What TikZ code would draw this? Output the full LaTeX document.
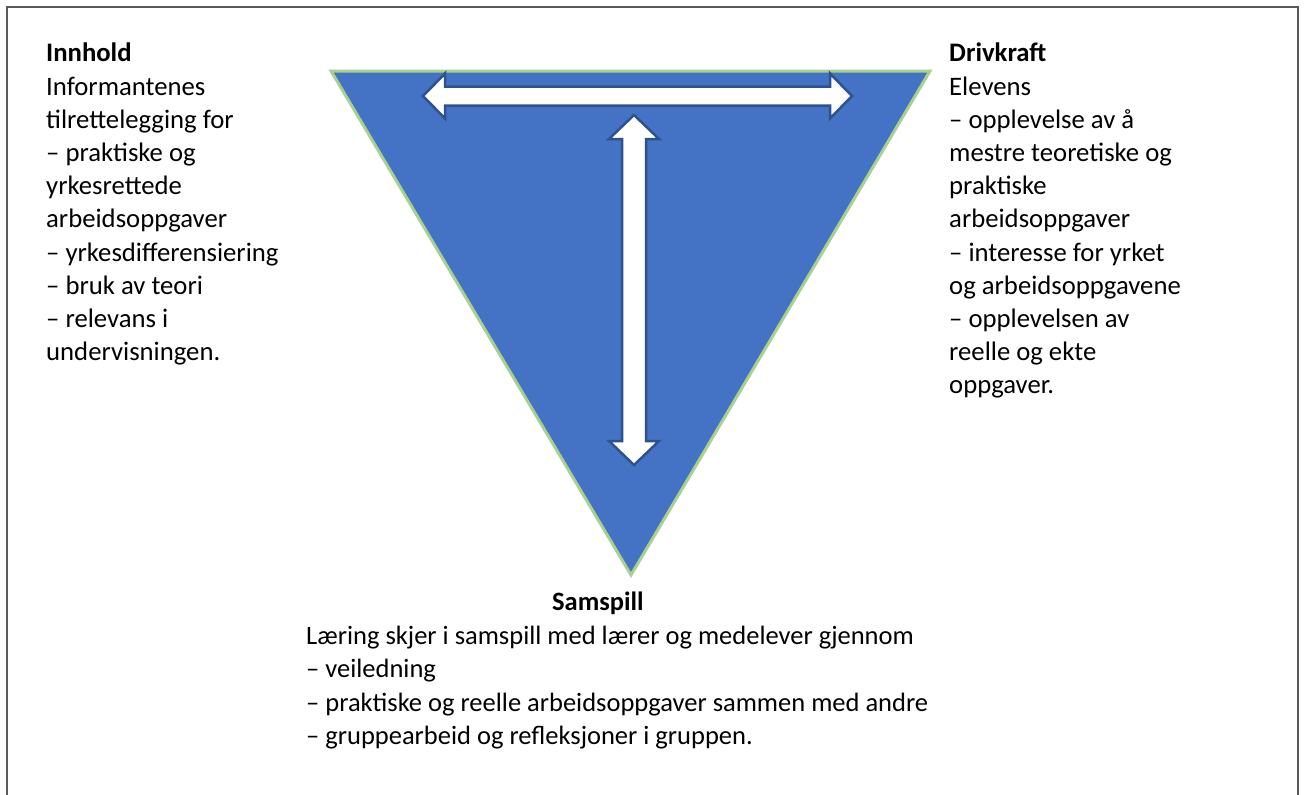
\documentclass[tikz,border=0pt]{standalone}
\usepackage{fontspec}
\setmainfont{Carlito}
\usepackage{xcolor}
\usepackage{tikz}
\usetikzlibrary{positioning}

\definecolor{triblue}{HTML}{4472C4}
\definecolor{trigreen}{HTML}{A9D18E}
\definecolor{arrowedge}{HTML}{2F528F}
\definecolor{framegray}{HTML}{595959}

\begin{document}
\begin{tikzpicture}[x=1pt, y=-1pt,
    textblock/.style={align=left, inner sep=0pt, anchor=north west, font=\fontsize{26.7}{33.2}\selectfont},
    bottomblock/.style={align=left, inner sep=0pt, anchor=north west, font=\fontsize{26.5}{33.3}\selectfont},
    headblock/.style={inner sep=0pt, anchor=north west, font=\fontsize{26.5}{33.3}\selectfont\bfseries},
    triangle/.style={fill=triblue, draw=trigreen, line width=3pt, line join=miter},
    blockarrow/.style={fill=white, draw=arrowedge, line width=2.5pt, line join=miter},
    frame/.style={draw=framegray, line width=2.5pt}]

    \useasboundingbox (0,0) rectangle (1304,795);

    % open frame round the figure
    \draw [frame] (7,795) -- (7,7) -- (1298,7) -- (1298,795);

    % corners of the triangle
    \coordinate (innholdcorner) at (331,71);
    \coordinate (drivkraftcorner) at (930,71);
    \coordinate (samspillcorner) at (631,575);
    \draw [triangle] (innholdcorner) -- (drivkraftcorner) -- (samspillcorner) -- cycle;

    % double arrows inside the triangle
    \draw [blockarrow] (423,96) -- (445,73.5) -- (445,86.5) -- (830,86.5) -- (830,73.5) -- (852,96)
        -- (830,118.5) -- (830,105.5) -- (445,105.5) -- (445,118.5) -- cycle;
    \draw [blockarrow] (634,115) -- (659,139) -- (646,139) -- (646,441) -- (659,441) -- (634,465)
        -- (609,441) -- (622,441) -- (622,139) -- (609,139) -- cycle;

    % the three texts
    \node [textblock] (innhold) at (46,43) {\textbf{Innhold}\\ Informantenes\\ tilrettelegging for\\ – praktiske og\\ yrkesrettede\\ arbeidsoppgaver\\ – yrkesdifferensiering\\ – bruk av teori\\ – relevans i\\ undervisningen.};

    \node [textblock] (drivkraft) at (949,43) {\textbf{Drivkraft}\\ Elevens\\ – opplevelse av å\\ mestre teoretiske og\\ praktiske\\ arbeidsoppgaver\\ – interesse for yrket\\ og arbeidsoppgavene\\ – opplevelsen av\\ reelle og ekte\\ oppgaver.};

    \node [headblock] (samspill) at (552,592) {Samspill};
    \node [bottomblock] (samspilltext) at (306,626) {Læring skjer i samspill med lærer og medelever gjennom\\ – veiledning\\ – praktiske og reelle arbeidsoppgaver sammen med andre\\ – gruppearbeid og refleksjoner i gruppen.};

\end{tikzpicture}
\end{document}
